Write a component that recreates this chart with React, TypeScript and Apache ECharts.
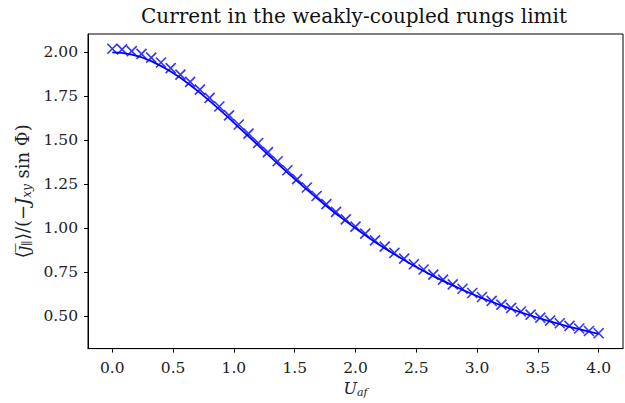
import React, { useEffect, useRef } from "react";
import * as echarts from "echarts";

const uValues = [
  0.0, 0.08, 0.16, 0.24, 0.32, 0.4, 0.48, 0.56, 0.64, 0.72, 0.8, 0.88, 0.96,
  1.04, 1.12, 1.2, 1.28, 1.36, 1.44, 1.52, 1.6, 1.68, 1.76, 1.84, 1.92, 2.0,
  2.08, 2.16, 2.24, 2.32, 2.4, 2.48, 2.56, 2.64, 2.72, 2.8, 2.88, 2.96, 3.04,
  3.12, 3.2, 3.28, 3.36, 3.44, 3.52, 3.6, 3.68, 3.76, 3.84, 3.92, 4.0,
];

const curveValues = [
  2.0, 1.997, 1.987, 1.972, 1.95, 1.923, 1.891, 1.855, 1.814, 1.771, 1.724,
  1.676, 1.626, 1.574, 1.523, 1.471, 1.419, 1.368, 1.317, 1.268, 1.22, 1.173,
  1.127, 1.083, 1.041, 1.0, 0.961, 0.923, 0.887, 0.853, 0.82, 0.788, 0.758,
  0.729, 0.702, 0.676, 0.651, 0.627, 0.604, 0.583, 0.562, 0.542, 0.523, 0.505,
  0.488, 0.472, 0.456, 0.441, 0.427, 0.413, 0.4,
];

const markerValues = [
  2.02, 2.017, 2.007, 1.991, 1.97, 1.942, 1.91, 1.873, 1.832, 1.788, 1.741,
  1.692, 1.642, 1.59, 1.538, 1.485, 1.433, 1.381, 1.33, 1.28, 1.232, 1.184,
  1.138, 1.094, 1.051, 1.01, 0.97, 0.932, 0.896, 0.861, 0.828, 0.796, 0.766,
  0.737, 0.709, 0.682, 0.657, 0.633, 0.61, 0.588, 0.567, 0.548, 0.528, 0.51,
  0.493, 0.476, 0.461, 0.446, 0.431, 0.417, 0.404,
];

const xTicks = [0, 0.5, 1.0, 1.5, 2.0, 2.5, 3.0, 3.5, 4.0];
const yTicks = [0.5, 0.75, 1.0, 1.25, 1.5, 1.75, 2.0];

const FONT = "DejaVu Serif";

export default function App() {
  const ref = useRef<HTMLDivElement>(null);
  useEffect(() => {
    const chart = echarts.init(ref.current!, null, { renderer: "svg" });
    const lineData = uValues.map((u, i) => [u, curveValues[i]]);
    const markData = uValues.map((u, i) => [u, markerValues[i]]);
    chart.setOption({
      animation: false,
      backgroundColor: "#ffffff",
      title: {
        text: "Current in the weakly-coupled rungs limit",
        left: 349,
        top: 1,
        textAlign: "center",
        textStyle: {
          fontFamily: FONT,
          fontSize: 20,
          fontWeight: "normal",
          color: "#111",
        },
      },
      grid: {
        left: 88,
        top: 34,
        right: 2,
        bottom: 54,
        show: true,
        borderColor: "#000",
        borderWidth: 1,
        backgroundColor: "transparent",
      },
      xAxis: {
        type: "value",
        min: -0.2,
        max: 4.2,
        splitLine: { show: false },
        axisLine: { show: true, onZero: false, lineStyle: { color: "#000", width: 1 } },
        axisTick: {
          show: true,
          customValues: xTicks,
          length: 4,
          lineStyle: { color: "#000" },
        },
        axisLabel: {
          customValues: xTicks,
          formatter: (v: number) => v.toFixed(1),
          fontFamily: FONT,
          fontSize: 15.5,
          color: "#222",
          margin: 11,
        },
        name: "{i|U}{s|af}",
        nameLocation: "middle",
        nameGap: 30,
        nameTextStyle: {
          rich: {
            i: { fontFamily: FONT, fontStyle: "italic", fontSize: 16, color: "#222" },
            s: {
              fontFamily: FONT,
              fontStyle: "italic",
              fontSize: 11,
              color: "#222",
              verticalAlign: "bottom",
              padding: [8, 0, 0, 0],
            },
          },
        },
      },
      yAxis: {
        type: "value",
        min: 0.317,
        max: 2.104,
        splitLine: { show: false },
        axisLine: { show: true, onZero: false, lineStyle: { color: "#000", width: 1 } },
        axisTick: {
          show: true,
          customValues: yTicks,
          length: 4,
          lineStyle: { color: "#000" },
        },
        axisLabel: {
          customValues: yTicks,
          formatter: (v: number) => v.toFixed(2),
          fontFamily: FONT,
          fontSize: 15.5,
          color: "#222",
          margin: 10,
        },
        name:
          "{n|\u27E8}{i|j\u0305}{s|\u2225}{n|\u27E9/(\u2212}{i|J}{s|xy}{n| sin \u03A6)}",
        nameLocation: "middle",
        nameGap: 50,
        nameRotate: 90,
        nameTextStyle: {
          rich: {
            n: { fontFamily: FONT, fontSize: 18, color: "#222" },
            i: { fontFamily: FONT, fontStyle: "italic", fontSize: 18, color: "#222" },
            s: {
              fontFamily: FONT,
              fontStyle: "italic",
              fontSize: 12,
              color: "#222",
              padding: [9, 0, 0, 0],
            },
          },
        },
      },
      series: [
        {
          type: "line",
          data: lineData,
          showSymbol: false,
          symbol: "none",
          lineStyle: { color: "#0000ff", width: 1.8 },
          z: 2,
        },
        {
          type: "scatter",
          data: markData,
          symbol: "path://M0,0L10,10M10,0L0,10",
          symbolSize: 10,
          itemStyle: {
            color: "none",
            borderColor: "#0000ff",
            borderWidth: 1.6,
          },
          z: 3,
        },
      ],
    });
    return () => chart.dispose();
  }, []);
  return (
    <div
      ref={ref}
      style={{
        position: "fixed",
        left: 0,
        top: 0,
        width: 625,
        height: 403,
        background: "#fff",
      }}
    />
  );
}
